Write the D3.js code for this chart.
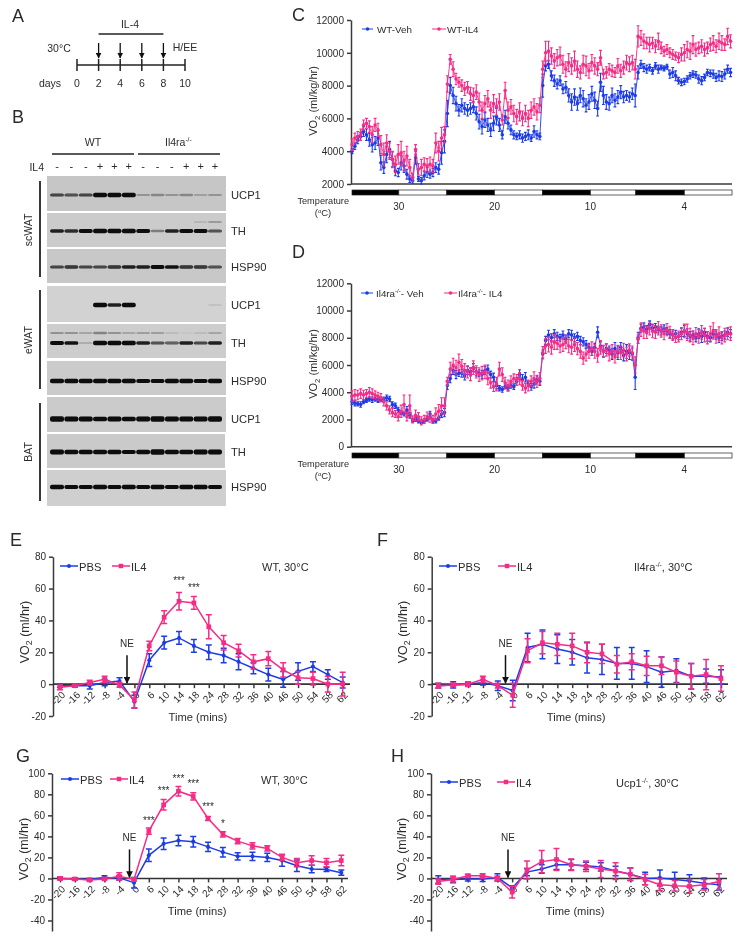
<!DOCTYPE html>
<html>
<head>
<meta charset="utf-8">
<script src="https://cdn.jsdelivr.net/npm/d3@7"></script>
<style>
  body { margin: 0; background: #fff; }
  svg { filter: blur(0.35px); }
  text { font-family: "Liberation Sans", Arial, sans-serif; fill: #2b2b2b; }
  .axis path, .axis line { stroke: #3a3a3a; stroke-width: 1.5; }
  .axis text { fill: #2b2b2b; }
</style>
</head>
<body>
<svg id="fig" width="741" height="940"></svg>
<script>
// panel A
var days = [0, 2, 4, 6, 8, 10];
var injectionDays = [2, 4, 6, 8];

// panel B, band strength per lane
var laneSigns = ["-", "-", "-", "+", "+", "+", "-", "-", "-", "+", "+", "+"];
var scUcp1 = [.55, .5, .55, 1, 1, 1, .2, .25, .2, .25, .15, .2];
var scTh = [.7, .65, .9, 1, 1, 1, .9, .3, .7, .8, .8, .5];
var scThUpper = [0, 0, 0, 0, 0, 0, 0, 0, 0, 0, .08, .18];
var scHsp = [.55, .6, .55, .55, .6, .7, .7, .8, .75, .6, .6, .5];
var eUcp1 = [0, 0, 0, .95, .7, 1, 0, 0, 0, 0, 0, .06];
var eTh = [.9, .75, .12, 1, 1, 1, .7, .5, .45, .7, .55, .7];
var eThUpper = [.22, .22, .15, .28, .22, .15, .18, .18, .07, .04, .07, .15];
var eHsp = [.95, .95, .95, .95, .95, .95, .9, .9, .95, .95, .9, .95];
var bUcp1 = [1.4, 1.2, 1.2, 1.1, 1.2, 1.1, 1.3, 1.4, 1.2, 1.3, 1.3, 1.4];
var bTh = [1.3, 1, 1, 1, 1, .9, 1, 1.4, 1.1, 1, 1.2, 1.2];
var bHsp = [.95, .9, .9, .95, .9, .95, .9, .95, .9, .95, .95, .9];

// panel C
var cVeh = [
  4000, 4300, 4700, 4900, 5200, 5000, 4700, 4400, 4500, 4800, 3300, 3000, 3800, 4100, 3500, 2800, 2700, 3300, 3100, 2600, 2300, 2200, 3600, 2300, 2200, 2500, 2700, 2600, 2700, 3000, 2900, 3900, 4600,
  6300, 8000, 7400, 6900, 6500, 6800, 6600, 6500, 6600, 6700, 6300, 5800, 5500, 5900, 5600, 5300, 5700, 6100, 5600, 5000, 6100, 5700, 5300, 5000, 4900, 5000, 4800, 4900, 5000, 4800, 5200, 5000, 4900,
  8000, 9200, 9300, 8600, 8300, 8100, 8300, 7800, 7900, 7400, 7000, 7300, 6900, 7400, 7200, 6800, 7000, 7500, 7100, 6600, 8200, 7400, 7000, 6900, 7400, 7100, 7300, 7600, 7300, 7400, 7300, 7500, 7400,
  8800, 9300, 9100, 9000, 9100, 8900, 9200, 9000, 9100, 9050, 9150, 8700, 8800, 8600, 8300, 8200, 8250, 8400, 8600, 8700, 8650, 8400, 8300, 8500, 8800, 8750, 8700, 8500, 8600, 8550, 8700, 9000, 8800
];
var cVehErr = [
  150, 200, 250, 250, 300, 350, 400, 450, 400, 450, 450, 350, 500, 500, 450, 300, 250, 450, 400, 300, 200, 150, 400, 150, 200, 250, 300, 250, 250, 300, 300, 700, 700,
  800, 500, 500, 450, 350, 400, 350, 350, 350, 350, 400, 450, 450, 450, 400, 400, 450, 500, 400, 250, 400, 350, 300, 250, 200, 250, 250, 250, 300, 200, 350, 250, 200,
  700, 300, 250, 300, 350, 300, 300, 300, 350, 400, 500, 500, 400, 450, 500, 400, 450, 450, 500, 450, 550, 550, 450, 400, 450, 400, 400, 400, 350, 300, 300, 350, 700,
  400, 250, 250, 250, 200, 200, 200, 250, 150, 150, 150, 250, 300, 300, 200, 200, 200, 200, 200, 200, 200, 250, 250, 200, 200, 200, 250, 250, 300, 300, 300, 250, 250
];
var cIl4 = [
  4400, 4800, 4900, 5000, 5600, 5700, 5500, 5000, 5600, 5300, 4400, 3800, 4500, 4000, 3500, 3200, 3800, 3900, 3400, 3700, 3000, 2400, 4100, 2900, 3000, 3200, 3100, 3200, 3100, 4500, 4000, 4800, 5000,
  8100, 9600, 9000, 8400, 8200, 8000, 7800, 7900, 7500, 7400, 7600, 7000, 6500, 6900, 7200, 6500, 6900, 6700, 7000, 5900, 7700, 6500, 6700, 6300, 6100, 6400, 6000, 6300, 6000, 6500, 6700, 6400, 6800,
  9000, 10000, 10100, 9800, 9500, 9700, 9800, 9300, 9000, 9400, 9200, 9500, 9000, 8800, 9300, 9200, 8900, 9400, 9200, 9000, 9700, 8700, 8800, 9000, 8900, 8800, 9200, 8900, 9100, 9400, 9300, 9400, 9000,
  11000, 10900, 10700, 10600, 10500, 10600, 10400, 10700, 10300, 10100, 10200, 10000, 9900, 9800, 9700, 9900, 10000, 10200, 10100, 10500, 10200, 10300, 10400, 10200, 10300, 10500, 10600, 10400, 10700, 10600, 10500, 11000, 10700
];
var cIl4Err = [
  350, 300, 300, 350, 300, 300, 350, 500, 400, 400, 550, 700, 500, 500, 500, 500, 600, 700, 600, 600, 500, 250, 300, 350, 500, 400, 450, 450, 400, 600, 600, 650, 500,
  500, 300, 450, 350, 300, 350, 400, 350, 400, 450, 450, 550, 500, 500, 500, 500, 550, 500, 500, 300, 500, 500, 450, 500, 450, 550, 450, 500, 500, 500, 500, 500, 450,
  500, 700, 600, 500, 450, 500, 550, 550, 450, 550, 500, 600, 500, 400, 550, 600, 450, 500, 500, 400, 450, 300, 350, 350, 350, 300, 450, 400, 400, 450, 450, 450, 600,
  650, 450, 450, 350, 450, 350, 400, 500, 350, 300, 300, 300, 300, 250, 300, 400, 500, 500, 500, 550, 400, 350, 400, 400, 350, 400, 450, 400, 500, 450, 350, 500, 400
];

// panel D
var dVeh = [
  3300, 3200, 3150, 3100, 3300, 3400, 3500, 3450, 3500, 3400, 3450, 3500, 3600, 3500, 3100, 3000, 2700, 2500, 2400, 2700, 2300, 1900, 2000, 1900, 1800, 1900, 2000, 2400, 1900, 1900, 2100, 2400, 2500,
  4500, 5000, 5600, 5300, 5400, 5400, 5200, 5600, 5500, 5800, 5500, 5400, 5300, 5600, 5700, 5300, 5100, 4500, 4300, 4200, 4400, 4300, 4500, 4400, 4800, 5300, 4900, 5100, 4600, 4400, 4600, 4900, 4800,
  6800, 7800, 8200, 8000, 8300, 8100, 8000, 8200, 7900, 8300, 8200, 8000, 8100, 7800, 7700, 7500, 7300, 7000, 7300, 8400, 7400, 7000, 7200, 7100, 6800, 7200, 6900, 7300, 6700, 7000, 6900, 6800, 5100,
  8000, 8700, 8800, 8600, 9000, 8700, 8800, 8600, 8500, 8700, 8500, 8300, 8200, 8300, 8100, 8400, 8500, 8300, 8100, 8200, 8000, 8300, 8100, 8400, 8100, 8000, 8300, 8200, 8000, 8100, 8200, 8400, 8300
];
var dVehErr = [
  200, 200, 150, 200, 150, 150, 150, 200, 150, 150, 150, 150, 200, 200, 200, 200, 200, 150, 150, 250, 200, 100, 150, 150, 100, 100, 100, 200, 150, 150, 150, 250, 300,
  300, 300, 300, 300, 250, 300, 300, 300, 300, 300, 300, 250, 300, 300, 300, 250, 300, 250, 200, 200, 150, 200, 200, 200, 300, 350, 400, 350, 200, 250, 300, 300, 300,
  300, 300, 350, 300, 300, 300, 250, 300, 300, 300, 350, 300, 300, 300, 300, 300, 300, 300, 300, 400, 300, 400, 350, 300, 400, 450, 500, 350, 400, 500, 500, 450, 900,
  400, 300, 300, 300, 250, 250, 250, 250, 300, 250, 250, 300, 300, 250, 250, 300, 400, 350, 350, 300, 300, 350, 450, 300, 350, 300, 300, 300, 350, 300, 300, 300, 300
];
var dIl4 = [
  3700, 3800, 3800, 3900, 3800, 3900, 4000, 3900, 3800, 3700, 3600, 3300, 3000, 2700, 2500, 2400, 2200, 2600, 3100, 2200, 3000, 2000, 2300, 2200, 1900, 2000, 2200, 2100, 2000, 2400, 2600, 3000, 3000,
  4800, 5700, 6000, 5800, 6200, 5900, 5600, 5500, 5300, 5800, 5500, 5300, 5400, 5500, 5000, 4700, 4400, 4600, 5700, 5300, 4700, 4500, 4800, 5000, 4900, 5000, 4500, 4300, 4500, 4800, 5000, 4800, 5000,
  6900, 7400, 7500, 7300, 7700, 7600, 7400, 7500, 7700, 7400, 7300, 7500, 7200, 7000, 6500, 6800, 7000, 7200, 7000, 6700, 7300, 7000, 7100, 6800, 7000, 6600, 7000, 6900, 7100, 6800, 7100, 6900, 6000,
  7900, 8600, 8500, 8400, 8700, 8500, 8400, 8700, 8500, 8300, 8600, 8400, 8200, 8000, 8100, 8300, 8500, 8400, 8200, 8000, 8300, 8100, 8400, 8200, 8000, 8300, 8500, 8100, 8300, 8000, 8200, 8300, 8300
];
var dIl4Err = [
  400, 400, 350, 350, 350, 300, 350, 350, 300, 300, 300, 300, 300, 300, 300, 250, 300, 450, 700, 300, 800, 250, 400, 300, 300, 300, 350, 300, 300, 450, 500, 600, 600,
  300, 500, 500, 550, 600, 500, 500, 450, 450, 500, 450, 500, 500, 500, 450, 400, 350, 500, 500, 500, 400, 400, 400, 350, 400, 450, 350, 350, 400, 400, 500, 450, 450,
  450, 550, 550, 500, 550, 450, 500, 500, 500, 500, 500, 500, 450, 500, 450, 500, 500, 500, 500, 500, 500, 450, 450, 500, 500, 450, 450, 500, 500, 500, 450, 500, 600,
  300, 500, 550, 450, 500, 500, 450, 500, 450, 450, 450, 450, 400, 350, 400, 450, 500, 600, 500, 500, 450, 500, 500, 500, 450, 550, 600, 500, 500, 450, 500, 450, 500
];

var stripEdges = [0, 16.2, 32.8, 49.3, 65.9, 82.5, 98.2, 115, 131.5];
var tempLabels = ["30", "20", "10", "4"];
var tempEdges = [16.2, 49.3, 82.5, 115];

// panels E-H
var minutes = ["-20", "-16", "-12", "-8", "-4", "0", "6", "10", "14", "18", "24", "28", "32", "36", "40", "46", "50", "54", "58", "62"];
var ePbs = [-1, -1, -1, 1, 2, -11, 15, 26, 29, 24, 20, 18, 14, 10, 6, 3, 8, 11, 6, 1];
var ePbsErr = [1, 1, 2, 2, 2, 4, 4, 4, 4, 4, 4.5, 4.5, 5, 3.5, 4, 5, 5.5, 3, 3, 3.5];
var eIl4 = [-2, -1, 1, 3, -0.5, -10, 24, 42, 52, 51, 36, 26, 21, 14, 16, 9, 4, 3.5, 0, 0];
var eIl4Err = [1.5, 1, 1.5, 2, 1.5, 5, 3, 4, 5.5, 4, 7.5, 4.5, 4, 4.5, 4.5, 4.5, 4, 4, 5, 7.5];
var fPbs = [-1, -0.5, 0, 1, -1, -4, 23, 25, 22, 20, 16.5, 15.5, 13, 13, 11, 7.5, 8.5, 5, 5, 4.5];
var fPbsErr = [1.5, 2, 1, 1.5, 3, 6.5, 9, 9, 9, 8, 9.5, 9.5, 10, 10, 10, 9.5, 7.5, 8, 4.5, 4.5];
var fIl4 = [-1, -0.5, 0, 3, -1, -7, 21, 26, 25, 24, 20, 19, 12.5, 14, 11.5, 11.5, 7.5, 5, 6, 3.5];
var fIl4Err = [1.5, 1, 1.5, 2, 1.5, 7.5, 7.5, 7, 7, 8, 6.5, 6, 5.5, 5, 6, 5.5, 7, 8, 9.5, 8];
var gPbs = [0, -0.5, -1, 1, 0.5, -4, 22, 33, 36, 35, 30, 25, 21, 21, 20, 17, 12, 9, 8.5, 5.5];
var gPbsErr = [1, 1, 1, 1.5, 2, 5, 6, 5.5, 5, 5, 4.5, 4.5, 3.5, 4, 4, 5.5, 5.5, 3.5, 2, 2.5];
var gIl4 = [0, -0.5, -1.5, -0.5, 2, -1, 45, 70, 83, 78, 57, 42, 35.5, 31, 28.5, 20, 15, 17, 15, 17];
var gIl4Err = [1.5, 1, 1, 1, 3.5, 1.5, 3, 5, 4.5, 3.5, 2, 2.5, 2.5, 3, 2.5, 3, 4, 4.5, 4, 5];
var hPbs = [-1, -1, -0.5, -0.5, 1, -9, 6, 9, 13, 13, 12, 11, 7, 4, 0, 0.5, -1, -2.5, -4.5, -6];
var hPbsErr = [3.5, 3, 2, 2.5, 3.5, 2, 3.5, 4, 4.5, 5, 3.5, 4, 4.5, 6, 6, 7.5, 7, 6, 5, 5];
var hIl4 = [-3, -1, 2.5, 2.5, 0, -13, 8, 16, 18, 13, 11.5, 9, 7, 4, -1, -6, -7, -7.5, -6, -3];
var hIl4Err = [2.5, 2.5, 1.5, 2, 2, 5.5, 8.5, 10.5, 10.5, 5.5, 5, 8, 8, 6, 5, 5.5, 5, 6.5, 5, 7.5];

var blue = "#1c3ce8";
var pink = "#f52c85";

var svg = d3.select("#fig");
var defs = svg.append("defs");
defs.append("filter").attr("id", "soft").attr("x", "-10%").attr("y", "-80%").attr("width", "120%").attr("height", "260%")
    .append("feGaussianBlur").attr("stdDeviation", 0.7);
defs.append("marker").attr("id", "head").attr("viewBox", "0 0 10 10").attr("refX", 9).attr("refY", 5)
    .attr("markerWidth", 4.5).attr("markerHeight", 4.5).attr("orient", "auto")
    .append("path").attr("d", "M0,0L10,5L0,10z").attr("fill", "#111");

function label(x, y, txt, size, anchor) {
    return svg.append("text").attr("x", x).attr("y", y).attr("font-size", size)
        .attr("text-anchor", anchor || "start").text(txt);
}

function superLabel(x, y, before, sup, after, size, anchor) {
    var t = label(x, y, before, size, anchor);
    t.append("tspan").attr("dy", -size * 0.35).attr("font-size", size * 0.62).text(sup);
    t.append("tspan").attr("dy", size * 0.35).text(after);
    return t;
}

function line(x1, y1, x2, y2, width, color) {
    return svg.append("line").attr("x1", x1).attr("y1", y1).attr("x2", x2).attr("y2", y2)
        .attr("stroke", color || "#222").attr("stroke-width", width);
}

// letters
[["A", 12, 22], ["B", 12, 123], ["C", 292, 21], ["D", 292, 258], ["E", 10, 546], ["F", 377, 546], ["G", 16, 762], ["H", 391, 762]]
    .forEach(function (d) { label(d[1], d[2], d[0], 18); });

drawTimeline();
drawBlots();

drawLongChart({ top: 20, bottom: 184, domain: [2000, 12000], stripTop: 190, stripBottom: 195,
    series: [[cVeh, cVehErr, blue], [cIl4, cIl4Err, pink]], titleY: 101,
    legend: [[362, 373, 377, "WT-Veh", "", "", blue], [432, 446, 447, "WT-IL4", "", "", pink]], legendY: 29 });
drawLongChart({ top: 283.3, bottom: 446.7, domain: [0, 12000], stripTop: 453, stripBottom: 458,
    series: [[dVeh, dVehErr, blue], [dIl4, dIl4Err, pink]], titleY: 364,
    legend: [[361, 373, 376, "Il4ra", "-/-", "- Veh", blue], [444, 457, 458, "Il4ra", "-/-", "- IL4", pink]], legendY: 293 });

drawTimeChart({ axisX: 53, first: 60, last: 342.7, axisEnd: 350, top: 556.7, bottom: 716, domain: [-20, 80], ticks: [-20, 0, 20, 40, 60, 80],
    pbs: ePbs, pbsErr: ePbsErr, il4: eIl4, il4Err: eIl4Err, titleX: 29, titleY: 632, arrowX: 127,
    legendX: [60, 112], note: ["WT, 30°C", "", ""], noteX: 262, legendY: 566, timeY: 721,
    stars: [["14", 65.7, "***"], ["18", 61.4, "***"]] });
drawTimeChart({ axisX: 431.7, first: 438.3, last: 721, axisEnd: 728, top: 556.7, bottom: 716, domain: [-20, 80], ticks: [-20, 0, 20, 40, 60, 80],
    pbs: fPbs, pbsErr: fPbsErr, il4: fIl4, il4Err: fIl4Err, titleX: 407, titleY: 632, arrowX: 505.5,
    legendX: [439, 498], note: ["Il4ra", "-/-", ", 30°C"], noteX: 634, legendY: 566, timeY: 721, stars: [] });
drawTimeChart({ axisX: 52, first: 60, last: 341.3, axisEnd: 348, top: 773.3, bottom: 931, domain: [-50, 100], ticks: [-40, -20, 0, 20, 40, 60, 80, 100],
    pbs: gPbs, pbsErr: gPbsErr, il4: gIl4, il4Err: gIl4Err, titleX: 28, titleY: 849, arrowX: 129.5,
    legendX: [61, 110], note: ["WT, 30°C", "", ""], noteX: 261, legendY: 779, timeY: 915,
    stars: [["6", 57, "***"], ["10", 85, "***"], ["14", 96.5, "***"], ["18", 91.7, "***"], ["24", 69.8, "***"], ["28", 53.6, "*"]] });
drawTimeChart({ axisX: 431, first: 438.3, last: 719, axisEnd: 727, top: 773.3, bottom: 931, domain: [-50, 100], ticks: [-40, -20, 0, 20, 40, 60, 80, 100],
    pbs: hPbs, pbsErr: hPbsErr, il4: hIl4, il4Err: hIl4Err, titleX: 406, titleY: 849, arrowX: 508,
    legendX: [440, 497], note: ["Ucp1", "-/-", ", 30°C"], noteX: 616, legendY: 782, timeY: 915, stars: [] });


function drawTimeline() {
    var x = d3.scaleLinear().domain([0, 10]).range([77, 185]);
    line(x(0), 65, x(10), 65, 1.5);
    days.forEach(function (d) {
        line(x(d), 59, x(d), 71, 1.5);
        label(x(d), 87, d, 10.5, "middle");
    });
    injectionDays.forEach(function (d) {
        line(x(d), 43, x(d), 58, 1.3, "#111").attr("marker-end", "url(#head)");
    });
    line(x(2), 34, x(8), 34, 1.5);
    label(130, 28, "IL-4", 10.5, "middle");
    label(59, 52, "30°C", 10.5, "middle");
    label(185, 51, "H/EE", 10.5, "middle");
    label(50, 87, "days", 10.5, "middle");
}


function drawBlots() {
    var lane = d3.scalePoint().domain(d3.range(12)).range([57, 215]);
    // top, bottom, right edge, grey, band centre, strengths, name
    var rows = [
        [176, 211, 226, "#c6c6c6", 195, scUcp1, "UCP1"],
        [213, 247, 226, "#cbcbcb", 231, scTh, "TH"],
        [249, 283, 226, "#c8c8c8", 267, scHsp, "HSP90"],
        [286, 322, 226, "#d2d2d2", 305, eUcp1, "UCP1"],
        [324, 358, 226, "#cdcdcd", 343, eTh, "TH"],
        [361, 395, 226, "#cbcbcb", 381, eHsp, "HSP90"],
        [397, 432, 226, "#cbcbcb", 419, bUcp1, "UCP1"],
        [434, 468, 225, "#cacaca", 452, bTh, "TH"],
        [470, 506, 226, "#cfcfcf", 487, bHsp, "HSP90"]
    ];
    var extra = [[222, scThUpper], [333, eThUpper]];

    rows.forEach(function (r) {
        svg.append("rect").attr("x", 47).attr("y", r[0]).attr("width", r[2] - 47).attr("height", r[1] - r[0]).attr("fill", r[3]);
        label(231, r[4] + 4, r[6], 11.2);
    });

    var bands = svg.append("g").attr("filter", "url(#soft)");
    rows.forEach(function (r) { drawBands(bands, lane, r[4], r[5]); });
    extra.forEach(function (r) { drawBands(bands, lane, r[0], r[1]); });

    laneSigns.forEach(function (s, i) { label(lane(i), 170, s, 11, "middle"); });
    label(44, 171, "IL4", 10.5, "end");
    label(93, 146, "WT", 10.5, "middle");
    superLabel(165, 146, "Il4ra", "-/-", "", 10.5);
    line(52, 154, 134, 154, 1.3);
    line(138, 154, 220, 154, 1.3);

    [[181, 277, "scWAT", 230], [290, 389, "eWAT", 340], [403, 501, "BAT", 452]].forEach(function (d) {
        line(40, d[0], 40, d[1], 1.8);
        svg.append("text").attr("transform", "translate(32," + d[3] + ") rotate(-90)")
            .attr("text-anchor", "middle").attr("font-size", 10.5).text(d[2]);
    });
}


function drawBands(g, lane, y, strengths) {
    strengths.forEach(function (s, i) {
        if (!s) return;
        g.append("rect")
            .attr("x", lane(i) - 7).attr("width", 14)
            .attr("y", y - (0.8 + s * 1.4)).attr("height", 1.6 + s * 2.8)
            .attr("rx", 2)
            .attr("fill", "#0c0c0c").attr("opacity", Math.min(1, s * 1.3));
    });
}


function drawLongChart(o) {
    var x = d3.scaleLinear().domain([0, 131.5]).range([352, 732]);
    var y = d3.scaleLinear().domain(o.domain).range([o.bottom, o.top]);

    var yAxis = d3.axisLeft(y).tickValues(d3.range(o.domain[0], 12001, 2000)).tickSize(4).tickSizeOuter(0).tickFormat(String);
    svg.append("g").attr("class", "axis").attr("transform", "translate(351,0)").attr("font-size", 9.8).call(yAxis);
    line(351, o.bottom, 732, o.bottom, 1.5, "#3a3a3a");

    o.series.forEach(function (s) {
        var g = svg.append("g").attr("stroke", s[2]).attr("stroke-width", 1.1).attr("fill", s[2]);
        var pts = d3.range(s[0].length);
        g.append("path").attr("fill", "none").attr("stroke-width", 0.9)
            .attr("d", d3.line().x(function (i) { return x(i); }).y(function (i) { return y(s[0][i]); })(pts));
        pts.forEach(function (i) {
            var px = x(i), hi = y(s[0][i] + s[1][i]), lo = y(s[0][i] - s[1][i]);
            g.append("path").attr("fill", "none").attr("d",
                "M" + px + "," + hi + "V" + lo +
                "M" + (px - 1.4) + "," + hi + "H" + (px + 1.4) +
                "M" + (px - 1.4) + "," + lo + "H" + (px + 1.4));
            g.append("circle").attr("cx", px).attr("cy", y(s[0][i])).attr("r", 1.8).attr("stroke", "none");
        });
    });

    // light cycle strip
    d3.pairs(stripEdges).forEach(function (p, i) {
        svg.append("rect").attr("x", x(p[0])).attr("y", o.stripTop).attr("width", x(p[1]) - x(p[0]))
            .attr("height", o.stripBottom - o.stripTop)
            .attr("fill", i % 2 ? "#fff" : "#000").attr("stroke", "#222").attr("stroke-width", 0.7);
    });
    tempEdges.forEach(function (t, i) {
        label(x(t), o.stripBottom + 15, tempLabels[i], 10, "middle");
    });
    label(349, o.stripBottom + 9, "Temperature", 9.2, "end");
    superLabel(323, o.stripBottom + 21, "(", "o", "C)", 9.5, "middle");

    o.legend.forEach(function (l) {
        line(l[0], o.legendY, l[1], o.legendY, 1, l[6]);
        svg.append("circle").attr("cx", (l[0] + l[1]) / 2).attr("cy", o.legendY).attr("r", 1.8).attr("fill", l[6]);
        superLabel(l[2], o.legendY + 3.5, l[3], l[4], l[5], 9.8);
    });

    svg.append("text").attr("transform", "translate(317," + o.titleY + ") rotate(-90)")
        .attr("text-anchor", "middle").attr("font-size", 11).call(vo2, "(ml/kg/hr)");
}


function vo2(t, unit) {
    t.append("tspan").text("VO");
    t.append("tspan").attr("dy", 3).attr("font-size", "0.7em").text("2");
    t.append("tspan").attr("dy", -3).text(" " + unit);
}


function drawTimeChart(o) {
    var x = d3.scalePoint().domain(minutes).range([o.first, o.last]);
    var y = d3.scaleLinear().domain(o.domain).range([o.bottom, o.top]);

    var yAxis = d3.axisLeft(y).tickValues(o.ticks).tickSize(4).tickSizeOuter(0).tickFormat(String);
    svg.append("g").attr("class", "axis").attr("transform", "translate(" + o.axisX + ",0)").attr("font-size", 10).call(yAxis);

    var xAxis = d3.axisBottom(x).tickSize(4).tickSizeOuter(0);
    var xg = svg.append("g").attr("class", "axis").attr("transform", "translate(0," + y(0) + ")").attr("font-size", 10.5).call(xAxis);
    xg.select(".domain").remove();
    line(o.axisX, y(0), o.axisEnd, y(0), 1.6, "#333");
    xg.selectAll("text").attr("text-anchor", "end").attr("x", 0).attr("y", 0).attr("dy", "0.35em")
        .attr("transform", "translate(3,9) rotate(-45)");

    [[o.pbs, o.pbsErr, blue, "circle"], [o.il4, o.il4Err, pink, "square"]].forEach(function (s) {
        var g = svg.append("g").attr("fill", s[2]).attr("stroke", s[2]);
        g.append("path").attr("fill", "none").attr("stroke-width", 1.5)
            .attr("d", d3.line().x(function (d, i) { return x(minutes[i]); }).y(function (d) { return y(d); })(s[0]));
        s[0].forEach(function (v, i) {
            var px = x(minutes[i]), hi = y(v + s[1][i]), lo = y(v - s[1][i]);
            g.append("path").attr("fill", "none").attr("stroke-width", 1.5).attr("d",
                "M" + px + "," + hi + "V" + lo +
                "M" + (px - 3) + "," + hi + "H" + (px + 3) +
                "M" + (px - 3) + "," + lo + "H" + (px + 3));
            g.append("path").attr("stroke", "none").attr("transform", "translate(" + px + "," + y(v) + ")")
                .attr("d", d3.symbol().type(s[3] === "circle" ? d3.symbolCircle : d3.symbolSquare).size(s[3] === "circle" ? 13 : 22)());
        });
    });

    o.stars.forEach(function (d) {
        label(x(d[0]), y(d[1]) + 5, d[2], 10, "middle");
    });

    line(o.arrowX, y(0) - 29, o.arrowX, y(0) - 1, 1.5, "#111").attr("marker-end", "url(#head)");
    label(o.arrowX, y(0) - 37, "NE", 10, "middle");

    label((o.first + o.last) / 2 - 3.5, o.timeY, "Time (mins)", 11.2, "middle");

    // legend
    [[o.legendX[0], "PBS", blue, d3.symbolCircle, 13], [o.legendX[1], "IL4", pink, d3.symbolSquare, 20]].forEach(function (l) {
        line(l[0], o.legendY, l[0] + 18, o.legendY, 1.5, l[2]);
        svg.append("path").attr("fill", l[2]).attr("transform", "translate(" + (l[0] + 9) + "," + o.legendY + ")")
            .attr("d", d3.symbol().type(l[3]).size(l[4])());
        label(l[0] + 19, o.legendY + 4.5, l[1], 11.2);
    });
    superLabel(o.noteX, o.legendY + 4.5, o.note[0], o.note[1], o.note[2], 11);

    svg.append("text").attr("transform", "translate(" + o.titleX + "," + o.titleY + ") rotate(-90)")
        .attr("text-anchor", "middle").attr("font-size", 12.5).call(vo2, "(ml/hr)");
}
</script>
</body>
</html>
